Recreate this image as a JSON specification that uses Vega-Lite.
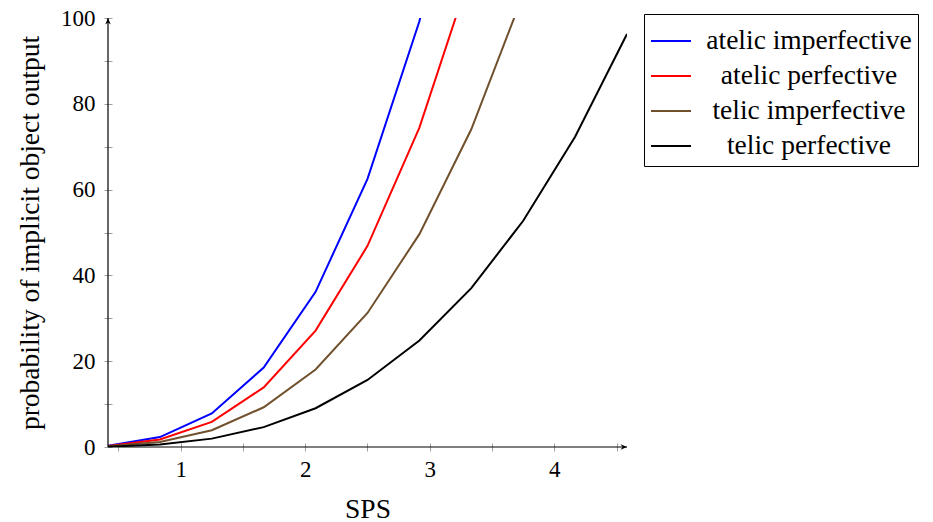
{
  "$schema": "https://vega.github.io/schema/vega-lite/v6.json",
  "width": 519,
  "height": 429,
  "autosize": "none",
  "padding": {"left": 108, "top": 18, "right": 306, "bottom": 75},
  "config": {
    "view": {"stroke": null},
    "font": "Liberation Serif",
    "axis": {"labelFont": "Liberation Serif", "titleFont": "Liberation Serif", "labelFontSize": 23, "titleFontSize": 27.5, "titleFontWeight": "normal", "labelColor": "black", "titleColor": "black"},
    "legend": {"labelFont": "Liberation Serif", "labelFontSize": 27.5, "labelColor": "black"}
  },
  "datasets": {
    "curves": [
      {"sps": 0.4167, "prob": 0.289, "series": "atelic imperfective"},
      {"sps": 0.8333, "prob": 2.315, "series": "atelic imperfective"},
      {"sps": 1.25, "prob": 7.81, "series": "atelic imperfective"},
      {"sps": 1.6667, "prob": 18.52, "series": "atelic imperfective"},
      {"sps": 2.0833, "prob": 36.17, "series": "atelic imperfective"},
      {"sps": 2.5, "prob": 62.5, "series": "atelic imperfective"},
      {"sps": 2.9167, "prob": 99.25, "series": "atelic imperfective"},
      {"sps": 3.3333, "prob": 148.1, "series": "atelic imperfective"},
      {"sps": 0.4167, "prob": 0.217, "series": "atelic perfective"},
      {"sps": 0.8333, "prob": 1.736, "series": "atelic perfective"},
      {"sps": 1.25, "prob": 5.86, "series": "atelic perfective"},
      {"sps": 1.6667, "prob": 13.89, "series": "atelic perfective"},
      {"sps": 2.0833, "prob": 27.13, "series": "atelic perfective"},
      {"sps": 2.5, "prob": 46.88, "series": "atelic perfective"},
      {"sps": 2.9167, "prob": 74.44, "series": "atelic perfective"},
      {"sps": 3.3333, "prob": 111.1, "series": "atelic perfective"},
      {"sps": 0.4167, "prob": 0.145, "series": "telic imperfective"},
      {"sps": 0.8333, "prob": 1.157, "series": "telic imperfective"},
      {"sps": 1.25, "prob": 3.906, "series": "telic imperfective"},
      {"sps": 1.6667, "prob": 9.26, "series": "telic imperfective"},
      {"sps": 2.0833, "prob": 18.08, "series": "telic imperfective"},
      {"sps": 2.5, "prob": 31.25, "series": "telic imperfective"},
      {"sps": 2.9167, "prob": 49.62, "series": "telic imperfective"},
      {"sps": 3.3333, "prob": 74.07, "series": "telic imperfective"},
      {"sps": 3.75, "prob": 105.47, "series": "telic imperfective"},
      {"sps": 0.4167, "prob": 0.072, "series": "telic perfective"},
      {"sps": 0.8333, "prob": 0.579, "series": "telic perfective"},
      {"sps": 1.25, "prob": 1.953, "series": "telic perfective"},
      {"sps": 1.6667, "prob": 4.63, "series": "telic perfective"},
      {"sps": 2.0833, "prob": 9.04, "series": "telic perfective"},
      {"sps": 2.5, "prob": 15.625, "series": "telic perfective"},
      {"sps": 2.9167, "prob": 24.81, "series": "telic perfective"},
      {"sps": 3.3333, "prob": 37.04, "series": "telic perfective"},
      {"sps": 3.75, "prob": 52.73, "series": "telic perfective"},
      {"sps": 4.1667, "prob": 72.34, "series": "telic perfective"},
      {"sps": 4.5833, "prob": 96.28, "series": "telic perfective"}
    ]
  },
  "layer": [
    {
      "data": {"name": "curves"},
      "mark": {"type": "line", "clip": true, "strokeWidth": 2},
      "encoding": {
        "x": {
          "field": "sps", "type": "quantitative",
          "scale": {"domain": [0.4167, 4.5833], "nice": false, "zero": false},
          "axis": {"title": "SPS", "values": [0.5, 1, 1.5, 2, 2.5, 3, 3.5, 4, 4.5], "labelExpr": "datum.value % 1 === 0 ? format(datum.value, 'd') : ''", "domain": false, "grid": false, "offset": -4, "tickSize": 8, "tickColor": "#a0a0a0", "tickWidth": 1, "labelPadding": 7, "titlePadding": 14, "labelFlush": false}
        },
        "y": {
          "field": "prob", "type": "quantitative",
          "scale": {"domain": [0, 100], "nice": false},
          "axis": {"title": "probability of implicit object output", "values": [0, 10, 20, 30, 40, 50, 60, 70, 80, 90, 100], "labelExpr": "datum.value % 20 === 0 ? format(datum.value, 'd') : ''", "domain": false, "grid": false, "offset": -4, "tickSize": 8, "tickColor": "#a0a0a0", "tickWidth": 1, "labelPadding": 9, "titlePadding": 16, "labelFlush": false}
        },
        "color": {
          "field": "series", "type": "nominal",
          "scale": {"domain": ["atelic imperfective", "atelic perfective", "telic imperfective", "telic perfective"], "range": ["#0000ff", "#ff0000", "#70502d", "#000000"]},
          "legend": {"title": null, "orient": "none", "legendX": 536, "legendY": -4, "symbolType": "stroke", "symbolSize": 1600, "symbolStrokeWidth": 2, "labelAlign": "center", "labelOffset": 117, "rowPadding": 0, "padding": 6, "strokeColor": "black", "fillColor": "white", "labelLimit": 400}
        }
      }
    },
    {
      "data": {"values": [{}]},
      "mark": {"type": "rule", "color": "black", "strokeWidth": 1.2},
      "encoding": {"x": {"datum": 0.4167}, "y": {"datum": 0}, "y2": {"datum": 100}}
    },
    {
      "data": {"values": [{}]},
      "mark": {"type": "rule", "color": "black", "strokeWidth": 1.2},
      "encoding": {"y": {"datum": 0}, "x": {"datum": 0.4167}, "x2": {"datum": 4.5833}}
    },
    {
      "data": {"values": [{}]},
      "mark": {"type": "point", "filled": true, "color": "black", "opacity": 1, "size": 64, "shape": "M0,0L-0.7,1.6L0,1.1L0.7,1.6Z"},
      "encoding": {"x": {"datum": 0.4167}, "y": {"datum": 100}}
    },
    {
      "data": {"values": [{}]},
      "mark": {"type": "point", "filled": true, "color": "black", "opacity": 1, "size": 64, "shape": "M0,0L-1.6,-0.7L-1.1,0L-1.6,0.7Z"},
      "encoding": {"x": {"datum": 4.5833}, "y": {"datum": 0}}
    }
  ]
}
